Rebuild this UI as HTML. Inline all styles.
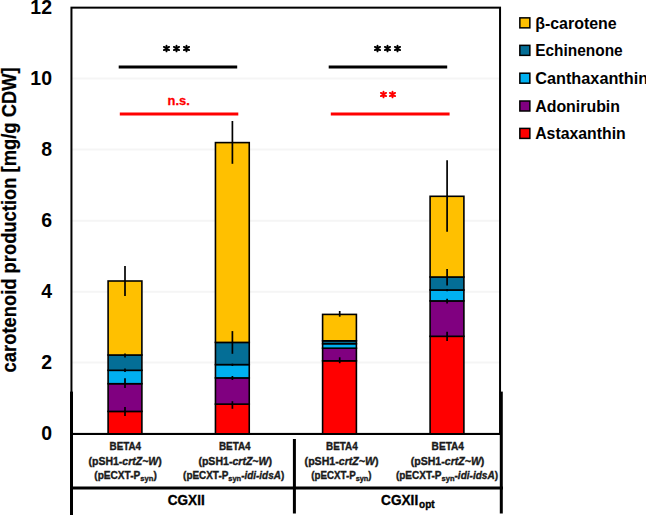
<!DOCTYPE html>
<html><head><meta charset="utf-8">
<style>
html,body{margin:0;padding:0;background:#fff;width:646px;height:515px;overflow:hidden;}
svg{display:block;}
text{font-family:"Liberation Sans",sans-serif;font-weight:bold;}
</style></head>
<body>
<svg width="646" height="515" viewBox="0 0 646 515">
<!-- gridlines -->
<g stroke="#f5f5f5" stroke-width="2">
<line x1="72" y1="78.55" x2="499" y2="78.55"/>
<line x1="72" y1="149.6" x2="499" y2="149.6"/>
<line x1="72" y1="220.65" x2="499" y2="220.65"/>
<line x1="72" y1="291.65" x2="499" y2="291.65"/>
<line x1="72" y1="362.55" x2="499" y2="362.55"/>
</g>
<!-- plot frame -->
<rect x="71.45" y="7.65" width="428.6" height="426.25" fill="none" stroke="#000" stroke-width="2"/>

<!-- bars: segments red, purple, cyan, teal, yellow -->
<g stroke="#000" stroke-width="1.6">
<!-- bar1 x 107.3-142.7 -->
<rect x="108.1" y="411.4" width="33.8" height="22.5" fill="#ff0000"/>
<rect x="108.1" y="383.7" width="33.8" height="27.7" fill="#800080"/>
<rect x="108.1" y="370.3" width="33.8" height="13.4" fill="#00b0f0"/>
<rect x="108.1" y="355.0" width="33.8" height="15.3" fill="#046e96"/>
<rect x="108.1" y="281.0" width="33.8" height="74.0" fill="#ffc000"/>
<!-- bar2 x 214.7-250 -->
<rect x="215.45" y="404.1" width="33.8" height="29.8" fill="#ff0000"/>
<rect x="215.45" y="377.9" width="33.8" height="26.2" fill="#800080"/>
<rect x="215.45" y="364.6" width="33.8" height="13.3" fill="#00b0f0"/>
<rect x="215.45" y="342.4" width="33.8" height="22.2" fill="#046e96"/>
<rect x="215.45" y="142.6" width="33.8" height="199.8" fill="#ffc000"/>
<!-- bar3 x 322-356.9 -->
<rect x="322.6" y="360.8" width="33.8" height="73.1" fill="#ff0000"/>
<rect x="322.6" y="348.2" width="33.8" height="12.6" fill="#800080"/>
<rect x="322.6" y="343.7" width="33.8" height="4.5" fill="#00b0f0"/>
<rect x="322.6" y="340.8" width="33.8" height="2.9" fill="#046e96"/>
<rect x="322.6" y="314.4" width="33.8" height="26.4" fill="#ffc000"/>
<!-- bar4 x 429.9-464 -->
<rect x="430.1" y="336.3" width="33.8" height="97.6" fill="#ff0000"/>
<rect x="430.1" y="300.9" width="33.8" height="35.4" fill="#800080"/>
<rect x="430.1" y="290.0" width="33.8" height="10.9" fill="#00b0f0"/>
<rect x="430.1" y="277.0" width="33.8" height="13.0" fill="#046e96"/>
<rect x="430.1" y="196.3" width="33.8" height="80.7" fill="#ffc000"/>
</g>
<!-- error bars -->
<g stroke="#000" stroke-width="1.7">
<line x1="125" y1="266" x2="125" y2="296"/>
<line x1="125" y1="353.6" x2="125" y2="357.5"/>
<line x1="125" y1="368.6" x2="125" y2="372"/>
<line x1="125" y1="378.3" x2="125" y2="387.9"/>
<line x1="125" y1="407.1" x2="125" y2="415.9"/>

<line x1="232.4" y1="121" x2="232.4" y2="163.8"/>
<line x1="232.4" y1="331.1" x2="232.4" y2="353.8"/>
<line x1="232.4" y1="363.7" x2="232.4" y2="366"/>
<line x1="232.4" y1="376" x2="232.4" y2="380"/>
<line x1="232.4" y1="401.2" x2="232.4" y2="408.8"/>

<line x1="339.7" y1="311" x2="339.7" y2="316.7"/>
<line x1="339.7" y1="357.3" x2="339.7" y2="363.2"/>

<line x1="447.1" y1="160.3" x2="447.1" y2="231.8"/>
<line x1="447.1" y1="269.1" x2="447.1" y2="285.4"/>
<line x1="447.1" y1="288.9" x2="447.1" y2="291.2"/>
<line x1="447.1" y1="298.8" x2="447.1" y2="303.4"/>
<line x1="447.1" y1="331.7" x2="447.1" y2="341"/>
</g>

<!-- significance lines -->
<g stroke-width="3.2">
<line x1="118.7" y1="67" x2="237.2" y2="67" stroke="#000"/>
<line x1="328.7" y1="67" x2="447.2" y2="67" stroke="#000"/>
<line x1="119.8" y1="114" x2="238.3" y2="114" stroke="#ff0000"/>
<line x1="330.8" y1="114" x2="449.6" y2="114" stroke="#ff0000"/>
</g>
<!-- asterisks -->
<defs>
<g id="ast"><path d="M0,-2.9V2.9M-2.6,-1.65L2.6,1.65M-2.6,1.65L2.6,-1.65" stroke-width="1.85" stroke-linecap="round" fill="none"/></g>
</defs>
<g stroke="#000">
<use href="#ast" x="166.5" y="48.5"/>
<use href="#ast" x="176.5" y="48.5"/>
<use href="#ast" x="186.5" y="48.5"/>
<use href="#ast" x="377.5" y="48.5"/>
<use href="#ast" x="387.5" y="48.5"/>
<use href="#ast" x="397.5" y="48.5"/>
</g>
<g stroke="#ff0000">
<use href="#ast" x="383.5" y="94.5"/>
<use href="#ast" x="392.5" y="94.5"/>
</g>
<text x="167.6" y="105.3" font-size="13.5" fill="#ff0000" stroke="#ff0000" stroke-width="0.3" textLength="22.2" lengthAdjust="spacingAndGlyphs">n.s.</text>

<!-- x axis -->
<line x1="70.5" y1="434" x2="501" y2="434" stroke="#000" stroke-width="2"/>

<!-- category table lines -->
<g stroke="#000" stroke-width="3">
<line x1="71.5" y1="391.6" x2="71.5" y2="515"/>
<line x1="501.3" y1="391.6" x2="501.3" y2="513.5"/>
<line x1="294.4" y1="439" x2="294.4" y2="513.5"/>
<line x1="70" y1="488" x2="503" y2="488"/>
</g>

<!-- y tick labels -->
<g font-size="19.3" text-anchor="end" fill="#000" transform="translate(51.9,0.55) scale(1.01,1) translate(-52.2,0)">
<text x="52.3" y="13.65">12</text>
<text x="52.3" y="84.6">10</text>
<text x="52.3" y="155.66">8</text>
<text x="52.3" y="226.72">6</text>
<text x="52.3" y="297.78">4</text>
<text x="52.3" y="368.84">2</text>
<text x="52.3" y="439.9">0</text>
</g>

<!-- y axis title -->
<text transform="translate(15.6,219.9) rotate(-90)" text-anchor="middle" font-size="20" textLength="305" lengthAdjust="spacingAndGlyphs" fill="#000" stroke="#000" stroke-width="0.25">carotenoid production [mg/g CDW]</text>

<!-- legend -->
<g stroke="#000" stroke-width="1.5">
<rect x="519.85" y="17.85" width="10" height="10" fill="#ffc000"/>
<rect x="519.85" y="45.35" width="10" height="10" fill="#046e96"/>
<rect x="519.85" y="73.2" width="10" height="10" fill="#00b0f0"/>
<rect x="519.85" y="101" width="10" height="10" fill="#800080"/>
<rect x="519.85" y="128.4" width="10" height="10" fill="#ff0000"/>
</g>
<g font-size="16" fill="#000">
<text x="535.2" y="28.9" textLength="81.5" lengthAdjust="spacingAndGlyphs">β-carotene</text>
<text x="535.2" y="56.4" textLength="87.5" lengthAdjust="spacingAndGlyphs">Echinenone</text>
<text x="535.2" y="84.1" textLength="113" lengthAdjust="spacingAndGlyphs">Canthaxanthin</text>
<text x="535.2" y="111.8" textLength="84.8" lengthAdjust="spacingAndGlyphs">Adonirubin</text>
<text x="535.2" y="139.4" textLength="90.5" lengthAdjust="spacingAndGlyphs">Astaxanthin</text>
</g>

<!-- category labels -->
<g font-size="10" fill="#1a1a1a" stroke="#1a1a1a" stroke-width="0.35" text-anchor="middle">
<text x="125.35" y="449.5" textLength="31.5" lengthAdjust="spacingAndGlyphs">BETA4</text>
<text x="125.15" y="464.6" textLength="73.3" lengthAdjust="spacingAndGlyphs">(pSH1-<tspan font-style="italic">crtZ~W</tspan>)</text>
<text x="125.55" y="478.6" textLength="62.5" lengthAdjust="spacingAndGlyphs">(pECXT-P<tspan font-size="7.5" dy="2">syn</tspan><tspan dy="-2">)</tspan></text>

<text x="234.75" y="449.5" textLength="31.7" lengthAdjust="spacingAndGlyphs">BETA4</text>
<text x="235.2" y="464.6" textLength="73.6" lengthAdjust="spacingAndGlyphs">(pSH1-<tspan font-style="italic">crtZ~W</tspan>)</text>
<text x="233.65" y="478.6" textLength="101.1" lengthAdjust="spacingAndGlyphs">(pECXT-P<tspan font-size="7.5" dy="2">syn</tspan><tspan dy="-2">-</tspan><tspan font-style="italic">idi-idsA</tspan>)</text>

<text x="341.85" y="449.5" textLength="31.7" lengthAdjust="spacingAndGlyphs">BETA4</text>
<text x="341.6" y="464.6" textLength="74" lengthAdjust="spacingAndGlyphs">(pSH1-<tspan font-style="italic">crtZ~W</tspan>)</text>
<text x="341.45" y="478.6" textLength="60.3" lengthAdjust="spacingAndGlyphs">(pECXT-P<tspan font-size="7.5" dy="2">syn</tspan><tspan dy="-2">)</tspan></text>

<text x="447.8" y="449.5" textLength="32.4" lengthAdjust="spacingAndGlyphs">BETA4</text>
<text x="447.55" y="464.6" textLength="73.7" lengthAdjust="spacingAndGlyphs">(pSH1-<tspan font-style="italic">crtZ~W</tspan>)</text>
<text x="446.95" y="478.6" textLength="102.1" lengthAdjust="spacingAndGlyphs">(pECXT-P<tspan font-size="7.5" dy="2">syn</tspan><tspan dy="-2">-</tspan><tspan font-style="italic">idi-idsA</tspan>)</text>
</g>

<!-- group labels -->
<g font-size="15" fill="#000" stroke="#000" stroke-width="0.35">
<text x="167.8" y="505.4" textLength="36.9" lengthAdjust="spacingAndGlyphs">CGXII</text>
<text x="381.1" y="505.4"><tspan textLength="37.1" lengthAdjust="spacingAndGlyphs">CGXII</tspan><tspan font-size="10.5" dx="0.9" dy="3" textLength="15.6" lengthAdjust="spacingAndGlyphs">opt</tspan></text>
</g>
</svg>
</body></html>
